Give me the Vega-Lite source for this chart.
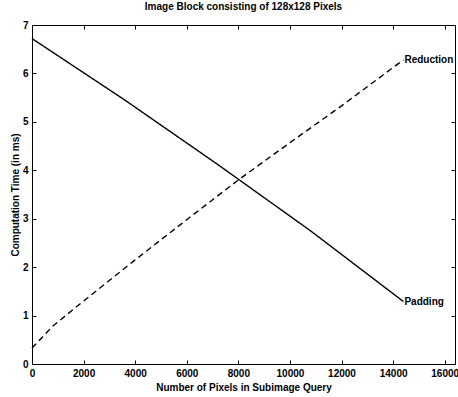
{
  "$schema": "https://vega.github.io/schema/vega-lite/v6.json",
  "width": 423,
  "height": 339,
  "autosize": {"type": "none"},
  "padding": {"left": 32, "top": 25, "right": 3, "bottom": 33},
  "title": {"text": "Image Block consisting of 128x128 Pixels", "fontSize": 10, "fontWeight": "bold", "font": "Liberation Sans", "color": "black", "offset": 8},
  "config": {
    "font": "Liberation Sans",
    "view": {"stroke": "black", "strokeWidth": 1},
    "axis": {"domain": false, "tickColor": "black", "tickWidth": 1, "labelColor": "black", "titleColor": "black", "grid": false, "labelFont": "Liberation Sans", "titleFont": "Liberation Sans", "labelFontSize": 10, "titleFontSize": 10, "labelFontWeight": "bold", "titleFontWeight": "bold"}
  },
  "datasets": {
    "curves": [
      {"series": "Padding", "x": 0, "y": 6.72},
      {"series": "Padding", "x": 3600, "y": 5.45},
      {"series": "Padding", "x": 7200, "y": 4.12},
      {"series": "Padding", "x": 10800, "y": 2.75},
      {"series": "Padding", "x": 14400, "y": 1.29},
      {"series": "Reduction", "x": 0, "y": 0.33},
      {"series": "Reduction", "x": 800, "y": 0.78},
      {"series": "Reduction", "x": 2000, "y": 1.3},
      {"series": "Reduction", "x": 4000, "y": 2.15},
      {"series": "Reduction", "x": 6000, "y": 2.98},
      {"series": "Reduction", "x": 8000, "y": 3.8},
      {"series": "Reduction", "x": 10000, "y": 4.57},
      {"series": "Reduction", "x": 12000, "y": 5.33},
      {"series": "Reduction", "x": 14400, "y": 6.28}
    ],
    "labels": [
      {"series": "Reduction", "x": 14400, "y": 6.28},
      {"series": "Padding", "x": 14400, "y": 1.29}
    ]
  },
  "resolve": {"axis": {"x": "independent", "y": "independent"}},
  "layer": [
    {
      "data": {"name": "curves"},
      "mark": {"type": "line", "color": "black", "strokeWidth": 1.4},
      "encoding": {
        "x": {"field": "x", "type": "quantitative", "scale": {"domain": [0, 16400], "nice": false, "zero": false},
              "axis": {"orient": "bottom", "offset": -4, "title": "Number of Pixels in Subimage Query", "values": [0,2000,4000,6000,8000,10000,12000,14000,16000], "format": "d", "tickSize": 4, "labelPadding": 4, "titlePadding": 4, "labelFlush": false, "labelOverlap": false}},
        "y": {"field": "y", "type": "quantitative", "scale": {"domain": [0, 7], "nice": false, "zero": false},
              "axis": {"orient": "left", "offset": -4, "title": "Computation Time (in ms)", "values": [0,1,2,3,4,5,6,7], "tickSize": 4, "labelPadding": 4, "titlePadding": 2, "labelFlush": false, "labelOverlap": false}},
        "strokeDash": {"field": "series", "type": "nominal", "scale": {"domain": ["Padding", "Reduction"], "range": [[1, 0], [6, 4]]}, "legend": null}
      }
    },
    {
      "data": {"name": "labels"},
      "mark": {"type": "text", "align": "left", "baseline": "middle", "dx": 1, "fontSize": 10, "fontWeight": "bold", "color": "black"},
      "encoding": {
        "x": {"field": "x", "type": "quantitative", "scale": {"domain": [0, 16400], "nice": false, "zero": false},
              "axis": {"orient": "top", "offset": -4, "title": null, "labels": false, "values": [0,2000,4000,6000,8000,10000,12000,14000,16000], "tickSize": 4}},
        "y": {"field": "y", "type": "quantitative", "scale": {"domain": [0, 7], "nice": false, "zero": false},
              "axis": {"orient": "right", "offset": -4, "title": null, "labels": false, "values": [0,1,2,3,4,5,6,7], "tickSize": 4}},
        "text": {"field": "series", "type": "nominal"}
      }
    }
  ]
}
